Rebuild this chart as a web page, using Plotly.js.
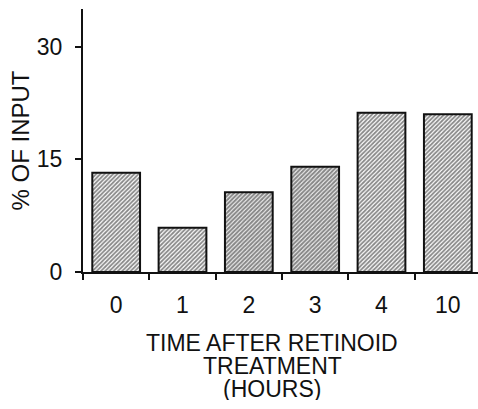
<!DOCTYPE html>
<html>
<head>
<meta charset="utf-8">
<script src="https://cdn.plot.ly/plotly-3.0.1.min.js"></script>
<style>
html,body{margin:0;padding:0;overflow:hidden;background:#fff;}
#chart{width:481px;height:409px;}
</style>
</head>
<body>
<div id="chart"></div>
<script>
// Data
const hours = ["0", "1", "2", "3", "4", "10"];
const percentInput = [13.2, 5.9, 10.6, 14.0, 21.2, 21.0];
const yTicks = [0, 15, 30];
const yTitle = "% OF INPUT";
const xTitleLines = ["TIME AFTER RETINOID", "TREATMENT", "(HOURS)"];

// Style
const hatchSolidity = [0.6, 0.6, 0.7, 0.7, 0.6, 0.6];
const fontFam = "Liberation Sans, Arial, Helvetica, sans-serif";
const ink = "#111111";

const trace = {
  type: "bar",
  x: hours,
  y: percentInput,
  marker: {
    color: "#ffffff",
    line: {color: ink, width: 2},
    pattern: {shape: "/", size: 3, solidity: hatchSolidity, fgcolor: "#111111", bgcolor: "#ffffff", fillmode: "overlay"}
  },
  hoverinfo: "none"
};

const layout = {
  width: 481,
  height: 409,
  margin: {l: 83, r: 0, t: 9, b: 137},
  paper_bgcolor: "#ffffff",
  plot_bgcolor: "#ffffff",
  showlegend: false,
  bargap: 0.28,
  font: {family: fontFam, size: 23, color: ink},
  xaxis: {
    type: "category",
    showline: true, linecolor: ink, linewidth: 2,
    ticks: "outside", ticklen: 6, tickwidth: 2, tickcolor: ink,
    tickson: "boundaries",
    showgrid: false, zeroline: false,
    tickfont: {size: 23, family: fontFam, color: ink},
    ticklabelstandoff: 11
  },
  yaxis: {
    range: [0, 35],
    tickvals: yTicks,
    ticktext: yTicks.map(String),
    showline: true, linecolor: ink, linewidth: 2,
    ticks: "outside", ticklen: 6, tickwidth: 2, tickcolor: ink,
    showgrid: false, zeroline: false,
    tickfont: {size: 23, family: fontFam, color: ink},
    ticklabelstandoff: 8,
    title: {text: yTitle, font: {size: 24, family: fontFam, color: ink}, standoff: 0}
  },
  annotations: xTitleLines.map((t, i) => ({
    text: t,
    xref: "paper", yref: "paper",
    x: 0.476, y: 0, yshift: -57 - 23 * i,
    xanchor: "center", yanchor: "top",
    height: 23, valign: "middle",
    showarrow: false,
    font: {size: 23, family: fontFam, color: ink}
  }))
};

Plotly.newPlot("chart", [trace], layout, {displayModeBar: false, staticPlot: true});
</script>
</body>
</html>
